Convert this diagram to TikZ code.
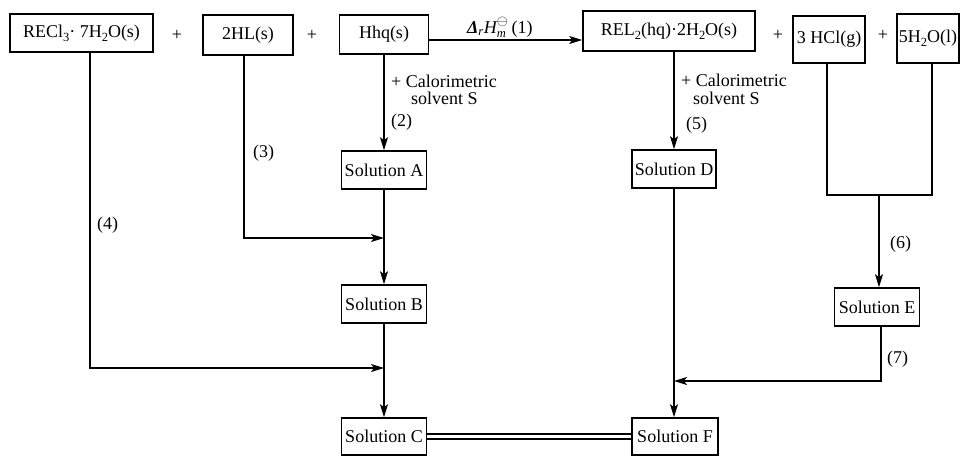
\documentclass[tikz,border=0pt]{standalone}
\usepackage{fontspec}
\setmainfont{Liberation Serif}
\usetikzlibrary{arrows.meta}
\newcommand\dsub[1]{\raisebox{-0.22em}{\fontsize{12.5}{12.5}\selectfont #1}}
\tikzset{
  every node/.style={font=\fontsize{18}{21}\selectfont},
  box/.style={draw, line width=1.6pt, inner sep=0pt},
  conn/.style={line width=1.5pt},
  arr/.style={conn, -{Stealth[length=13pt,width=8pt,inset=3pt]}},
  lbl/.style={anchor=west, inner sep=0pt}
}
\begin{document}
\begin{tikzpicture}[x=1pt,y=-1pt]
\useasboundingbox (0,0) rectangle (961,456);
% top row
\node[box, minimum width=143pt, minimum height=38pt] (rec) at (81.5,33) {RECl\dsub{3}· 7H\dsub{2}O(s)};
\node at (177,35) (p1) {+};
\node[box, minimum width=90pt, minimum height=40pt] (hl) at (248,35) {2HL(s)};
\node at (312,35) (p2) {+};
\node[box, minimum width=89pt, minimum height=39pt] (hhq) at (384,34.5) {Hhq(s)};
\node[box, minimum width=172pt, minimum height=40pt] (rel) at (669,31) {REL\dsub{2}(hq)·2H\dsub{2}O(s)};
\node at (778,35) (p3) {+};
\node[box, minimum width=72pt, minimum height=47pt] (hcl) at (829,39.5) {3 HCl(g)};
\node at (883,35) (p4) {+};
\node[box, minimum width=62pt, minimum height=49pt] (h2o) at (928,38.5) {5H\dsub{2}O(l)};
% solutions
\node[box, minimum width=85pt, minimum height=38pt] (A) at (384,170) {Solution A};
\node[box, minimum width=85pt, minimum height=38pt] (B) at (384,304) {Solution B};
\node[box, minimum width=85pt, minimum height=37pt] (C) at (384,436.5) {Solution C};
\node[box, minimum width=84pt, minimum height=38pt] (D) at (674,169) {Solution D};
\node[box, minimum width=85pt, minimum height=38pt] (E) at (877,307) {Solution E};
\node[box, minimum width=86pt, minimum height=37pt] (F) at (675,436.5) {Solution F};
% helper coordinates
\coordinate (a1) at (0,40);
\coordinate (j3) at (384,238);
\coordinate (j4) at (384,368);
\coordinate (jc) at (879,195);
\coordinate (j7) at (674,381);
% reaction arrow
\draw[arr] (hhq.east |- a1) -- (rel.west |- a1);
\node[anchor=base west, inner sep=0pt] (l1) at (467,33) {$\mbox{\itshape\bfseries Δ}_{\mbox{\fontsize{12.5}{12.5}\selectfont\itshape r}}\mbox{\itshape H}_{\mbox{\fontsize{12.5}{12.5}\selectfont\itshape m}}^{\mbox{\fontsize{15}{15}\selectfont$\ominus$}}$\,(1)};
% left branch
\draw[arr] (hhq) -- (A);
\draw[arr] (A) -- (B);
\draw[arr] (B) -- (C);
\draw[arr] ([xshift=-4pt]hl.south) |- (j3);
\draw[arr] ([xshift=8.5pt]rec.south) |- (j4);
% right branch
\draw[arr] (rel.south -| D.north) -- (D.north);
\draw[arr] (D.south) -- (D.south |- F.north);
\draw[conn] ([xshift=-2pt]hcl.south) |- (jc) -| ([xshift=4pt]h2o.south);
\draw[arr] (jc) -- (jc |- E.north);
\draw[arr] ([xshift=4pt]E.south) |- (j7);
% double line
\draw[line width=1.4pt, double, double distance=3.5pt] (C.east) -- (F.west);
% labels
\node[lbl] (c2a) at (391,81) {+ Calorimetric};
\node[lbl] (c2b) at (411,98) {solvent S};
\node[lbl] (n2) at (391,122) {(2)};
\node[lbl] (c5a) at (681,80) {+ Calorimetric};
\node[lbl] (c5b) at (693,98) {solvent S};
\node[lbl] (n5) at (686,125) {(5)};
\node[lbl] (n3) at (253,153) {(3)};
\node[lbl] (n4) at (97,225) {(4)};
\node[lbl] (n6) at (890,244) {(6)};
\node[lbl] (n7) at (887,359) {(7)};
\end{tikzpicture}
\end{document}
